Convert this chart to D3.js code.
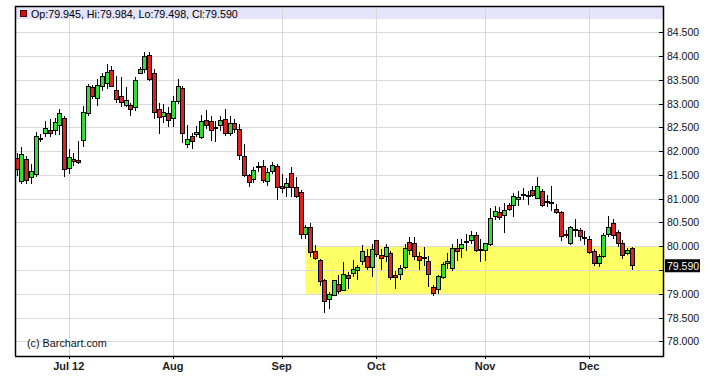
<!DOCTYPE html>
<html>
<head>
<meta charset="utf-8">
<script src="https://cdn.jsdelivr.net/npm/d3@7"></script>
<style>
  body { margin: 0; background: #fff; }
  text { font-family: "Liberation Sans", Arial, sans-serif; }
</style>
</head>
<body>
<div id="chart"></div>
<script>
// daily OHLC, one entry per trading day (index 0 .. 130)
const opens = [81.85, 81.36, 81.82, 81.45, 81.50, 82.27, 82.38, 82.44, 82.43, 82.55,
  82.69, 81.64, 81.83, 81.81, 82.23, 82.80, 83.34, 83.11, 83.36, 83.42,
  83.70, 83.28, 83.16, 82.97, 82.97, 82.92, 83.64, 83.71, 84.01, 83.64,
  82.87, 82.72, 82.79, 82.69, 83.05, 83.32, 82.14, 82.30, 82.35, 82.28,
  82.65, 82.63, 82.49, 82.53, 82.67, 82.37, 82.58, 82.46, 81.89, 81.48,
  81.40, 81.66, 81.67, 81.37, 81.58, 81.68, 81.26, 81.24, 81.52, 81.24,
  81.13, 80.25, 80.39, 79.88, 79.70, 79.27, 78.88, 78.97, 79.19, 79.07,
  79.39, 79.42, 79.48, 79.67, 79.79, 79.56, 80.12, 79.81, 79.79, 79.84,
  79.39, 79.40, 79.56, 80.07, 80.05, 79.79, 79.77, 79.68, 79.14, 79.09,
  79.35, 79.63, 79.53, 79.95, 79.96, 80.07, 80.12, 80.22, 79.94, 79.92,
  80.03, 80.62, 80.70, 80.65, 80.85, 80.86, 80.99, 81.08, 81.06, 81.18,
  81.01, 81.15, 80.95, 80.92, 80.78, 80.72, 80.25, 80.06, 80.36, 80.33,
  80.19, 80.15, 79.88, 79.63, 79.78, 80.24, 80.48, 80.29, 80.05, 79.85,
  79.945];
const highs = [81.96, 82.08, 81.90, 81.73, 82.41, 82.36, 82.64, 82.67, 82.69, 82.88,
  82.74, 82.04, 81.97, 82.21, 82.95, 83.41, 83.39, 83.51, 83.65, 83.83,
  83.79, 83.58, 83.55, 83.34, 83.02, 83.55, 83.76, 84.08, 84.08, 83.72,
  83.01, 82.99, 82.92, 83.16, 83.51, 83.37, 82.56, 82.39, 82.52, 82.77,
  82.86, 82.74, 82.63, 82.74, 82.88, 82.74, 82.67, 82.57, 82.16, 81.53,
  81.67, 81.77, 81.81, 81.64, 81.77, 81.74, 81.53, 81.44, 81.67, 81.45,
  81.18, 80.45, 80.48, 80.02, 79.74, 79.32, 79.04, 79.30, 79.39, 79.67,
  79.46, 79.72, 79.60, 80.02, 79.95, 80.04, 80.13, 79.95, 80.04, 79.91,
  79.49, 79.60, 80.05, 80.19, 80.19, 79.88, 79.98, 79.79, 79.18, 79.39,
  79.67, 79.86, 80.05, 80.16, 80.16, 80.26, 80.32, 80.29, 80.16, 80.07,
  80.80, 80.85, 80.82, 80.92, 80.92, 81.11, 81.17, 81.22, 81.16, 81.26,
  81.46, 81.20, 81.07, 81.27, 80.88, 80.74, 80.35, 80.43, 80.57, 80.38,
  80.33, 80.22, 79.94, 79.83, 80.28, 80.64, 80.57, 80.34, 80.14, 79.96,
  79.984];
const lows = [81.48, 81.31, 81.31, 81.31, 81.45, 82.20, 82.29, 82.29, 82.34, 82.34,
  81.45, 81.52, 81.69, 81.73, 82.08, 82.74, 83.09, 82.95, 83.27, 83.30,
  83.34, 83.02, 82.92, 82.92, 82.74, 82.85, 83.62, 83.65, 83.48, 82.67,
  82.36, 82.60, 82.50, 82.51, 83.00, 82.18, 82.07, 82.04, 82.30, 82.25,
  82.46, 82.21, 82.19, 82.42, 82.32, 82.32, 82.39, 81.81, 81.45, 81.24,
  81.33, 81.56, 81.33, 81.27, 81.53, 80.97, 81.12, 81.04, 81.04, 81.01,
  80.16, 80.16, 79.78, 79.71, 79.16, 78.60, 78.69, 78.95, 79.00, 79.05,
  79.11, 79.35, 79.30, 79.61, 79.50, 79.35, 79.78, 79.50, 79.67, 79.28,
  79.11, 79.29, 79.52, 79.81, 79.71, 79.50, 79.58, 79.15, 78.95, 78.99,
  79.32, 79.52, 79.48, 79.70, 79.75, 79.90, 80.04, 79.87, 79.66, 79.69,
  80.01, 80.55, 80.55, 80.27, 80.74, 80.62, 80.85, 80.97, 80.86, 81.03,
  80.99, 80.82, 80.82, 80.74, 80.67, 80.12, 80.17, 80.03, 80.19, 80.12,
  80.03, 79.83, 79.59, 79.56, 79.76, 80.19, 80.15, 79.99, 79.73, 79.81,
  79.498];
const closes = [81.62, 81.94, 81.38, 81.57, 82.31, 82.26, 82.48, 82.38, 82.60, 82.79,
  81.62, 81.87, 81.78, 81.76, 82.81, 83.36, 83.16, 83.39, 83.57, 83.65,
  83.36, 83.09, 83.02, 83.06, 82.88, 83.48, 83.71, 84.00, 83.51, 82.81,
  82.71, 82.81, 82.64, 83.05, 83.36, 82.37, 82.25, 82.21, 82.40, 82.63,
  82.55, 82.44, 82.48, 82.65, 82.37, 82.58, 82.46, 81.91, 81.49, 81.35,
  81.60, 81.67, 81.39, 81.55, 81.70, 81.23, 81.21, 81.32, 81.24, 81.04,
  80.25, 80.39, 79.86, 79.74, 79.25, 78.83, 78.99, 79.27, 79.04, 79.40,
  79.32, 79.51, 79.55, 79.89, 79.55, 79.93, 79.83, 79.74, 79.97, 79.35,
  79.34, 79.53, 79.95, 79.91, 79.79, 79.69, 79.74, 79.41, 79.00, 79.37,
  79.61, 79.67, 79.96, 79.90, 80.03, 80.09, 80.22, 79.92, 79.92, 80.05,
  80.59, 80.74, 80.60, 80.76, 80.78, 81.05, 81.03, 81.08, 81.06, 81.06,
  81.25, 80.86, 80.92, 80.92, 80.70, 80.20, 80.24, 80.40, 80.33, 80.20,
  80.17, 79.87, 79.63, 79.78, 80.23, 80.40, 80.22, 80.05, 79.81, 79.91,
  79.59];

// month labels and the day index where each starts
const monthLabels = ["Jul 12", "Aug", "Sep", "Oct", "Nov", "Dec"];
const monthIdx = [11, 33, 56, 76, 99, 121];

// price ticks on the right axis
const priceTicks = [78.0, 78.5, 79.0, 79.5, 80.0, 80.5, 81.0, 81.5, 82.0, 82.5, 83.0, 83.5, 84.0, 84.5];

// highlighted range (yellow box)
const zoneStart = [61];
const zoneRange = [79.0, 80.0];

const width = 713, height = 380;
const plot = {left: 15, right: 663, top: 6, bottom: 356};

let svg = d3.select("#chart")
    .append("svg")
    .attr("width", width)
    .attr("height", height)
    .style("display", "block");

let x = d3.scaleLinear()
    .domain([-0.36, 136.6])
    .range([plot.left, plot.right]);

let y = d3.scaleLinear()
    .domain([77.692, 85.053])
    .range([plot.bottom, plot.top]);

let data = opens.map((o, i) => ({i: i, o: o, h: highs[i], l: lows[i], c: closes[i]}));
let last = closes[closes.length - 1];

// header band
svg.append("rect")
    .attr("x", plot.left)
    .attr("y", plot.top)
    .attr("width", plot.right - plot.left)
    .attr("height", 13)
    .attr("fill", "#e4e4fa");

// yellow zone
svg.append("rect")
    .attr("x", x(zoneStart[0]))
    .attr("y", y(zoneRange[1]))
    .attr("width", plot.right - x(zoneStart[0]))
    .attr("height", y(zoneRange[0]) - y(zoneRange[1]))
    .attr("fill", "#ffff66");

// grid lines
let grid = svg.append("g").attr("shape-rendering", "crispEdges");
grid.selectAll("line.h")
    .data(priceTicks)
    .enter()
    .append("line")
    .attr("x1", plot.left)
    .attr("x2", plot.right)
    .attr("y1", d => Math.round(y(d)) + 0.5)
    .attr("y2", d => Math.round(y(d)) + 0.5)
    .attr("stroke", "#d6d6d6")
    .attr("stroke-opacity", 0.9);
grid.selectAll("line.v")
    .data(monthIdx)
    .enter()
    .append("line")
    .attr("x1", d => Math.round(x(d)) + 0.5)
    .attr("x2", d => Math.round(x(d)) + 0.5)
    .attr("y1", plot.top)
    .attr("y2", plot.bottom)
    .attr("stroke", "#d6d6d6")
    .attr("stroke-opacity", 0.9);

// header legend
svg.append("rect")
    .attr("x", 20.5)
    .attr("y", 10.5)
    .attr("width", 6)
    .attr("height", 6)
    .attr("fill", "#cc1111")
    .attr("stroke", "#550000");
let fmt = d3.format(".3f");
svg.append("text")
    .attr("x", 31)
    .attr("y", 17.5)
    .style("font-size", "10.7px")
    .text(`Op:${fmt(opens[opens.length - 1])}, Hi:${fmt(highs[highs.length - 1])}, Lo:${fmt(lows[lows.length - 1])}, Cl:${fmt(last)}`);

// candles
let candles = svg.append("g").attr("shape-rendering", "crispEdges");
let c = candles.selectAll("g")
    .data(data)
    .enter()
    .append("g");

c.append("line")
    .attr("x1", d => Math.round(x(d.i)) + 0.5)
    .attr("x2", d => Math.round(x(d.i)) + 0.5)
    .attr("y1", d => y(d.h))
    .attr("y2", d => y(d.l))
    .attr("stroke", "#000");

c.append("rect")
    .attr("x", d => Math.round(x(d.i)) - 1.5)
    .attr("y", d => y(Math.max(d.o, d.c)))
    .attr("width", 4)
    .attr("height", d => Math.max(1, Math.abs(y(d.o) - y(d.c))))
    .attr("fill", d => d.c >= d.o ? "#33dd33" : "#dd2222")
    .attr("stroke", "#000")
    .attr("stroke-width", 1);

// frame
svg.append("path")
    .attr("d", `M${plot.left + 0.5},${plot.bottom} V${plot.top + 0.5} H${plot.right + 0.5} V${plot.bottom + 0.5} H${plot.left}`)
    .attr("fill", "none")
    .attr("stroke", "#000")
    .attr("stroke-width", 1.5);

// right axis ticks + labels (labels hidden behind the last-price tag are skipped)
let yAxis = svg.append("g");
yAxis.selectAll("line")
    .data(priceTicks)
    .enter()
    .append("line")
    .attr("x1", plot.right - 4)
    .attr("x2", plot.right)
    .attr("y1", d => Math.round(y(d)) + 0.5)
    .attr("y2", d => Math.round(y(d)) + 0.5)
    .attr("stroke", "#000");
yAxis.selectAll("text")
    .data(priceTicks.filter(d => Math.abs(y(d) - y(last)) > 11))
    .enter()
    .append("text")
    .attr("x", 667)
    .attr("y", d => y(d) + 4)
    .style("font-size", "10.5px")
    .attr("fill", "#111")
    .text(d => fmt(d));

// last price tag
svg.append("rect")
    .attr("x", 665)
    .attr("y", y(last) - 6.5)
    .attr("width", 35)
    .attr("height", 13)
    .attr("fill", "#000");
svg.append("text")
    .attr("x", 667)
    .attr("y", y(last) + 4)
    .style("font-size", "10.5px")
    .attr("fill", "#fff")
    .text(fmt(last));

// bottom ticks + month labels
let xAxis = svg.append("g");
xAxis.selectAll("line")
    .data(monthIdx)
    .enter()
    .append("line")
    .attr("x1", d => Math.round(x(d)) + 0.5)
    .attr("x2", d => Math.round(x(d)) + 0.5)
    .attr("y1", plot.bottom)
    .attr("y2", plot.bottom + 3)
    .attr("stroke", "#000");
xAxis.selectAll("text")
    .data(monthLabels)
    .enter()
    .append("text")
    .attr("x", (d, k) => x(monthIdx[k]))
    .attr("y", 370)
    .style("text-anchor", "middle")
    .style("font-size", "11px")
    .style("font-weight", "bold")
    .attr("fill", "#222")
    .text(d => d);

// watermark
svg.append("text")
    .attr("x", 27)
    .attr("y", 347)
    .style("font-size", "10.8px")
    .attr("fill", "#111")
    .text("(c) Barchart.com");
</script>
</body>
</html>
